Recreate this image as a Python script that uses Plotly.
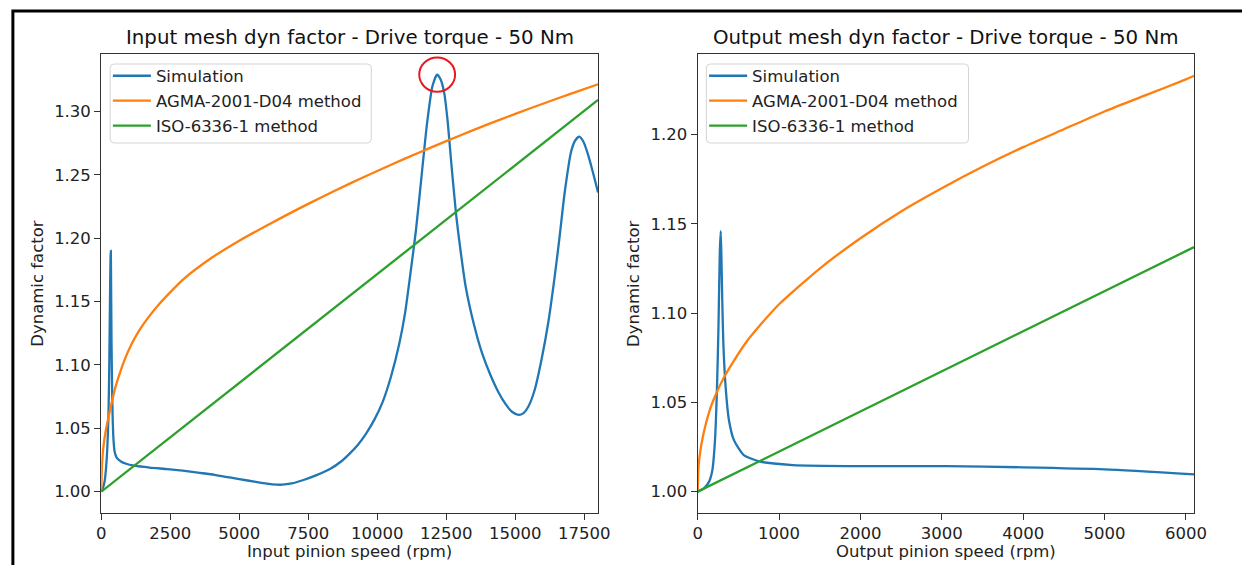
import plotly.graph_objects as go

# ---------------- data ----------------
in_sim_rpm = [0, 60, 120, 170, 220, 260, 290, 315, 335, 345, 355, 370, 390, 410, 440, 480,
              550, 700, 900, 1200, 1750, 2400, 2950, 3500, 4100, 4700, 5300, 5800, 6200,
              6550, 6900, 7300, 7800, 8300, 8700, 9000, 9300, 9600, 9900, 10200, 10500,
              10800, 11000, 11200, 11400, 11600, 11800, 12000, 12170, 12300, 12430, 12550,
              12670, 12850, 13000, 13200, 13500, 13800, 14100, 14400, 14650, 14880, 15120,
              15300, 15470, 15700, 15950, 16200, 16430, 16600, 16790, 17020, 17170, 17320,
              17470, 17620, 17800, 18000]
in_sim_val = [1.000, 1.003, 1.008, 1.018, 1.035, 1.060, 1.100, 1.150, 1.185, 1.190, 1.165,
              1.120, 1.085, 1.060, 1.042, 1.032, 1.027, 1.024, 1.022, 1.0205, 1.019, 1.0178,
              1.0166, 1.015, 1.0133, 1.011, 1.0088, 1.007, 1.0058, 1.0055, 1.0065, 1.009,
              1.013, 1.018, 1.024, 1.030, 1.037, 1.046, 1.057, 1.071, 1.091, 1.117, 1.140,
              1.172, 1.206, 1.248, 1.290, 1.320, 1.329, 1.325, 1.314, 1.292, 1.262, 1.220,
              1.193, 1.162, 1.132, 1.109, 1.092, 1.078, 1.069, 1.063, 1.0606, 1.062, 1.067,
              1.080, 1.104, 1.134, 1.170, 1.200, 1.236, 1.268, 1.277, 1.280, 1.276, 1.267,
              1.253, 1.236]

in_agma_rpm = [0, 25, 80, 170, 334, 500, 750, 1000, 1400, 2100, 3000, 4000, 5000, 6000,
               7000, 8000, 9000, 10000, 11000, 12000, 13000, 14000, 15000, 16000, 17000,
               18000]
in_agma_val = [1.000, 1.021, 1.036, 1.049, 1.066, 1.0815, 1.0985, 1.112, 1.128, 1.148,
               1.168, 1.1845, 1.198, 1.210, 1.2215, 1.2325, 1.243, 1.253, 1.2627, 1.272,
               1.281, 1.2897, 1.298, 1.306, 1.3138, 1.3214]

in_iso_rpm = [0, 9000, 18000]
in_iso_val = [1.000, 1.1545, 1.309]

out_sim_rpm = [0, 80, 140, 180, 210, 235, 255, 272, 283, 292, 300, 315, 343, 384, 444,
               566, 770, 1170, 1980, 3050, 4000, 5000, 6100]
out_sim_val = [1.000, 1.002, 1.0056, 1.012, 1.027, 1.055, 1.092, 1.135, 1.146, 1.130,
               1.111, 1.083, 1.0587, 1.040, 1.029, 1.0205, 1.0168, 1.0149, 1.0143,
               1.0143, 1.0136, 1.0125, 1.0097]

out_agma_rpm = [0, 10, 30, 60, 100, 150, 200, 300, 400, 600, 800, 1000, 1500, 2000,
                2500, 3000, 3500, 4000, 4500, 5000, 5500, 6000, 6100]
out_agma_val = [1.000, 1.014, 1.022, 1.030, 1.038, 1.046, 1.052, 1.062, 1.070, 1.084,
                1.095, 1.105, 1.125, 1.142, 1.157, 1.170, 1.182, 1.193, 1.203, 1.213,
                1.222, 1.231, 1.233]

out_iso_rpm = [0, 3050, 6100]
out_iso_val = [1.000, 1.0685, 1.137]

series_names = ["Simulation", "AGMA-2001-D04 method", "ISO-6336-1 method"]
titles = ["Input mesh dyn factor - Drive torque - 50 Nm",
          "Output mesh dyn factor - Drive torque - 50 Nm"]
x_titles = ["Input pinion speed (rpm)", "Output pinion speed (rpm)"]
y_title = "Dynamic factor"
in_xticks = [0, 2500, 5000, 7500, 10000, 12500, 15000, 17500]
out_xticks = [0, 1000, 2000, 3000, 4000, 5000, 6000]
in_yticks = [1.00, 1.05, 1.10, 1.15, 1.20, 1.25, 1.30]
out_yticks = [1.00, 1.05, 1.10, 1.15, 1.20]

# ---------------- styling ----------------
W, H = 1242, 565
FONT = "DejaVu Sans"
FS = 16.5
TFS = 19.8
TXT = "#222222"
colors = ["#1f77b4", "#ff7f0e", "#2ca02c"]
LW = 2.3

def px_x(p):
    return p / W

def px_y(p):
    return (H - p) / H

left_dom = [px_x(97.7), px_x(601.8)]
right_dom = [px_x(702.9), px_x(1206.5)]
y_dom = [px_y(512.5), px_y(54)]

fig = go.Figure()

panels = [
    dict(xa="x", ya="y", legend="legend",
         data=[(in_sim_rpm, in_sim_val), (in_agma_rpm, in_agma_val), (in_iso_rpm, in_iso_val)]),
    dict(xa="x2", ya="y2", legend="legend2",
         data=[(out_sim_rpm, out_sim_val), (out_agma_rpm, out_agma_val), (out_iso_rpm, out_iso_val)]),
]
for pi, p in enumerate(panels):
    for si, (xs, ys) in enumerate(p["data"]):
        fig.add_trace(go.Scatter(
            x=xs, y=ys, mode="lines", name=series_names[si],
            line=dict(color=colors[si], width=LW, shape="spline" if si < 2 else "linear",
                      smoothing=0.6),
            xaxis=p["xa"], yaxis=p["ya"], legend=p["legend"],
            legendgroup=f"{pi}-{si}", showlegend=True))

axis_common = dict(showgrid=False, zeroline=False, showline=True, mirror=True,
                   linecolor="#333333", linewidth=1.2, ticks="outside", ticklen=6,
                   tickwidth=1.2, tickcolor="#333333",
                   tickfont=dict(family=FONT, size=FS, color=TXT))

leg_common = dict(xanchor="left", yanchor="top", bgcolor="rgba(0,0,0,0)",
                  borderwidth=0, itemwidth=38,
                  font=dict(family=FONT, size=FS, color=TXT), tracegroupgap=0.5)

fig.update_layout(
    width=W, height=H, margin=dict(l=0, r=0, t=0, b=0),
    paper_bgcolor="white", plot_bgcolor="white",
    font=dict(family=FONT, size=FS, color=TXT),
    xaxis=dict(domain=left_dom, range=[0, 18000], tickvals=in_xticks, tickformat="d",
               anchor="y", **axis_common),
    yaxis=dict(domain=y_dom, range=[0.98356, 1.34524], tickvals=in_yticks, tickformat=".2f",
               anchor="x", **axis_common),
    xaxis2=dict(domain=right_dom, range=[0, 6100], tickvals=out_xticks, tickformat="d",
                anchor="y2", **axis_common),
    yaxis2=dict(domain=y_dom, range=[0.9883, 1.2452], tickvals=out_yticks, tickformat=".2f",
                anchor="x2", **axis_common),
    legend=dict(x=px_x(104.4), y=px_y(58.5), **leg_common),
    legend2=dict(x=px_x(709.4), y=px_y(58.5), **leg_common),
    showlegend=True,
)

# legend frames (rounded boxes as in matplotlib)
def rounded_box(x0, y0, x1, y1, r=4):
    X = lambda v: px_x(v)
    Y = lambda v: px_y(v)
    return (f"M{X(x0 + r)},{Y(y0)} L{X(x1 - r)},{Y(y0)} Q{X(x1)},{Y(y0)} {X(x1)},{Y(y0 + r)} "
            f"L{X(x1)},{Y(y1 - r)} Q{X(x1)},{Y(y1)} {X(x1 - r)},{Y(y1)} "
            f"L{X(x0 + r)},{Y(y1)} Q{X(x0)},{Y(y1)} {X(x0)},{Y(y1 - r)} "
            f"L{X(x0)},{Y(y0 + r)} Q{X(x0)},{Y(y0)} {X(x0 + r)},{Y(y0)} Z")

for bx in [(106.7, 64, 371.7, 143), (711.7, 64, 977.7, 143)]:
    fig.add_shape(type="path", xref="paper", yref="paper", path=rounded_box(*bx),
                  line=dict(color="#d5d5d5", width=1), fillcolor="rgba(255,255,255,0.8)",
                  layer="above")

# titles and axis labels
annotations = []
for dom, t in zip([left_dom, right_dom], titles):
    annotations.append(dict(text=t, x=(dom[0] + dom[1]) / 2, y=px_y(38), xref="paper",
                            yref="paper", xanchor="center", yanchor="middle",
                            showarrow=False, font=dict(family=FONT, size=TFS, color="#111111")))
for dom, t in zip([left_dom, right_dom], x_titles):
    annotations.append(dict(text=t, x=(dom[0] + dom[1]) / 2, y=px_y(551), xref="paper",
                            yref="paper", xanchor="center", yanchor="middle",
                            showarrow=False, font=dict(family=FONT, size=FS, color=TXT)))
for xp in [33, 637]:
    annotations.append(dict(text=y_title, x=px_x(xp), y=(y_dom[0] + y_dom[1]) / 2,
                            xref="paper", yref="paper", xanchor="center", yanchor="middle",
                            textangle=-90, showarrow=False,
                            font=dict(family=FONT, size=FS, color=TXT)))
fig.update_layout(annotations=annotations)

# red circle around the highest simulated peak (input mesh)
pk = max(range(len(in_sim_val)), key=lambda i: in_sim_val[i])
pk_x, pk_y = in_sim_rpm[pk], in_sim_val[pk]
fig.add_shape(type="circle", xref="x", yref="y",
              x0=pk_x - 650, x1=pk_x + 650, y0=pk_y - 0.0135, y1=pk_y + 0.0135,
              line=dict(color="#e8191f", width=2))

# black outer frame (screenshot border)
fig.add_shape(type="rect", xref="paper", yref="paper",
              x0=px_x(8), x1=px_x(1260), y0=px_y(600), y1=px_y(11),
              line=dict(color="black", width=3), fillcolor="rgba(0,0,0,0)", layer="above")

fig.write_html("out.html")
